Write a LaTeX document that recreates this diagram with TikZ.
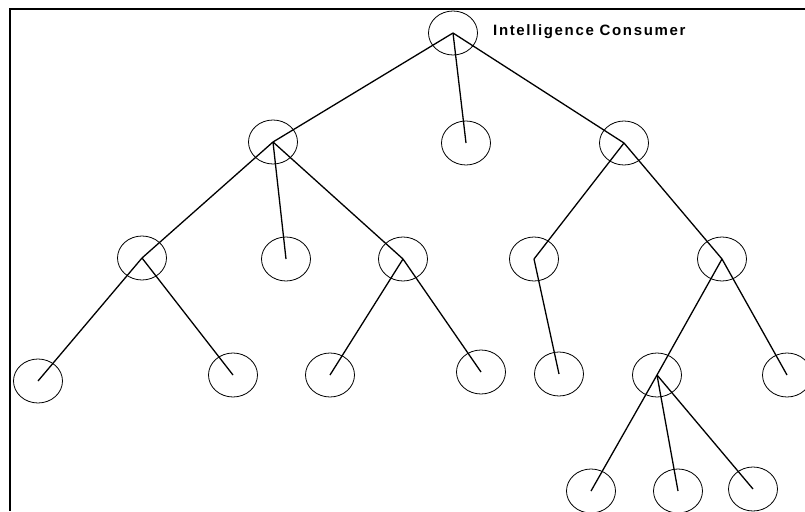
\documentclass[tikz,border=0pt]{standalone}
\usepackage{fontspec}
\usepackage{tikz}
\usetikzlibrary{shapes.geometric}
\newfontfamily\labelfont[LetterSpace=11,UprightFont={* Bold}]{Liberation Sans}

\begin{document}
\begin{tikzpicture}[x=1pt,y=-1pt,
  unit/.style={draw,ellipse,line width=0.8pt,minimum width=49pt,minimum height=44pt,inner sep=0pt},
  link/.style={line width=1.3pt}]
  \useasboundingbox (0,0) rectangle (805,511);
  \draw[line width=2.2pt] (805,9) -- (10,9) -- (10,511);
  \foreach \n/\x/\y in {root/453/33,
      a/273/142, b/466/143, c/624/143,
      a1/142/258, a2/286/259, a3/403/259, c1/534/259, c2/722/259,
      a11/38/381, a12/233/375, a31/330/375, a32/481/372,
      c11/559/374, c21/657/375, c22/787/375,
      c211/591/491, c212/678/491, c213/753/489}
    \node[unit] (\n) at (\x,\y) {};
  \foreach \p/\q in {root/a, root/b, root/c, a/a1, a/a2, a/a3,
      a1/a11, a1/a12, a3/a31, a3/a32, c/c1, c/c2, c1/c11,
      c2/c21, c2/c22, c21/c211, c21/c212, c21/c213}
    \draw[link] (\p.center) -- (\q.center);
  \node[anchor=base west,inner sep=0pt,font=\labelfont\fontsize{15}{18}\selectfont] (consumer) at (493,36) {Intelligence Consumer};
\end{tikzpicture}
\end{document}
